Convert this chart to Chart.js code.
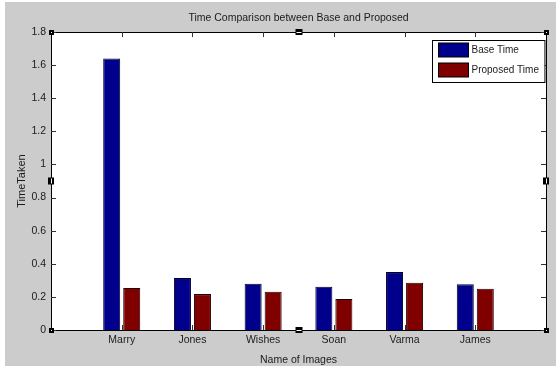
<!DOCTYPE html>
<html>
<head>
<meta charset="utf-8">
<script src="https://cdn.jsdelivr.net/npm/chart.js@4.4.1/dist/chart.umd.min.js"></script>
<style>
	html, body { margin: 0; padding: 0; background: #ffffff; }
	#fig { position: absolute; left: 5px; top: 2px; width: 551px; height: 364px; background: #cccccc; }
	#wrap { position: absolute; left: 0; top: 0; width: 556px; height: 366px; }
</style>
</head>
<body>
<div id="fig"></div>
<div id="wrap"><canvas id="timeChart" width="556" height="366"></canvas></div>
<script>
	// 데이터
	const imageNames = ['Marry', 'Jones', 'Wishes', 'Soan', 'Varma', 'James'];
	const baseTime = [1.64, 0.314, 0.28, 0.262, 0.35, 0.276];
	const proposedTime = [0.254, 0.217, 0.231, 0.187, 0.286, 0.249];
	const yTicks = [0, 0.2, 0.4, 0.6, 0.8, 1, 1.2, 1.4, 1.6, 1.8];

	const FONT = '"Liberation Sans", Arial, sans-serif';
	const TEXT = '#1a1a1a';

	// MATLAB 처럼 x 축 범위를 0..7 로 두기 위해 앞뒤에 빈 칸 추가
	const labels = [''].concat(imageNames, ['']);
	const pad = arr => [null].concat(arr, [null]);

	// 축 상자, 안쪽 눈금, 범례, 선택 핸들
	const matlabFrame = {
		id: 'matlabFrame',
		afterDatasetsDraw(chart) {
			const ctx = chart.ctx;
			const a = chart.chartArea;
			const x = chart.scales.x, y = chart.scales.y;
			ctx.save();
			ctx.strokeStyle = '#000';
			ctx.lineWidth = 1;
			ctx.strokeRect(Math.round(a.left) + 0.5, Math.round(a.top) + 0.5,
				Math.round(a.right - a.left), Math.round(a.bottom - a.top));

			ctx.strokeStyle = '#333';
			ctx.beginPath();
			yTicks.forEach(v => {
				const py = Math.round(y.getPixelForValue(v)) + 0.5;
				ctx.moveTo(a.left, py); ctx.lineTo(a.left + 5, py);
				ctx.moveTo(a.right, py); ctx.lineTo(a.right - 5, py);
			});
			imageNames.forEach((n, i) => {
				const px = Math.round(x.getPixelForValue(i + 1)) + 0.5;
				ctx.moveTo(px, a.bottom); ctx.lineTo(px, a.bottom - 5);
				ctx.moveTo(px, a.top); ctx.lineTo(px, a.top + 5);
			});
			ctx.stroke();

			// 범례
			ctx.font = '10px ' + FONT;
			const ds = chart.data.datasets;
			const tw = Math.max(...ds.map(d => ctx.measureText(d.label).width));
			const w = 6 + 30 + 3 + tw + 6;
			const bx = Math.round(a.right - 2 - w) + 0.5, by = Math.round(a.top + 8) + 0.5;
			ctx.fillStyle = '#fff';
			ctx.fillRect(bx, by, w, 42);
			ctx.strokeStyle = '#000';
			ctx.strokeRect(bx, by, w, 42);
			ds.forEach((d, i) => {
				const sy = by + 2.5 + i * 20;
				ctx.fillStyle = d.backgroundColor;
				ctx.fillRect(bx + 6, sy, 30, 14);
				ctx.strokeStyle = '#000';
				ctx.strokeRect(bx + 6, sy, 30, 14);
				ctx.fillStyle = TEXT;
				ctx.textBaseline = 'middle';
				ctx.textAlign = 'left';
				ctx.fillText(d.label, bx + 39, sy + 7);
			});

			// 선택 핸들
			const cx = Math.round((a.left + a.right) / 2), cy = Math.round((a.top + a.bottom) / 2);
			const handle = (hx, hy, hw, hh) => {
				ctx.fillStyle = '#000';
				ctx.fillRect(hx - hw / 2, hy - hh / 2, hw, hh);
				ctx.fillStyle = '#fff';
				if (hw > hh) ctx.fillRect(hx - hw / 2 + 1, hy, hw - 2, 1);
				else ctx.fillRect(hx, hy - hh / 2 + 1, 1, hh - 2);
			};
			handle(cx, Math.round(a.top), 7, 6);
			handle(cx, Math.round(a.bottom), 7, 6);
			handle(Math.round(a.left), cy, 6, 7);
			handle(Math.round(a.right), cy, 6, 7);
			[[a.left, a.top], [a.right, a.top], [a.left, a.bottom], [a.right, a.bottom]].forEach(p => {
				ctx.fillStyle = '#000';
				ctx.fillRect(Math.round(p[0]) - 2, Math.round(p[1]) - 2, 5, 5);
				ctx.fillStyle = '#fff';
				ctx.fillRect(Math.round(p[0]), Math.round(p[1]), 1, 1);
			});
			ctx.restore();
		}
	};

	// 흰색 축 영역
	const plotBg = {
		id: 'plotBg',
		beforeDraw(chart) {
			const a = chart.chartArea;
			chart.ctx.save();
			chart.ctx.fillStyle = '#ffffff';
			chart.ctx.fillRect(a.left, a.top, a.right - a.left, a.bottom - a.top);
			chart.ctx.restore();
		}
	};

	new Chart(document.getElementById('timeChart').getContext('2d'), {
		type: 'bar',
		data: {
			labels: labels,
			datasets: [
				{
					label: 'Base Time',
					data: pad(baseTime),
					backgroundColor: '#00008c',
					borderColor: '#000020',
					borderWidth: 1,
					categoryPercentage: 0.566,
					barPercentage: 0.85
				},
				{
					label: 'Proposed Time',
					data: pad(proposedTime),
					backgroundColor: '#800000',
					borderColor: '#200000',
					borderWidth: 1,
					categoryPercentage: 0.566,
					barPercentage: 0.85
				}
			]
		},
		options: {
			responsive: false,
			animation: false,
			layout: { padding: { left: 0, right: 10, top: 4, bottom: 0 } },
			plugins: {
				legend: { display: false },
				tooltip: { enabled: false },
				title: {
					display: true,
					fullSize: false,
					text: 'Time Comparison between Base and Proposed',
					color: TEXT,
					font: { family: FONT, size: 10.5, weight: 'normal' },
					padding: { top: 8, bottom: 7.5 }
				}
			},
			scales: {
				x: {
					offset: false,
					grid: { display: false, drawTicks: false },
					border: { display: false },
					ticks: {
						autoSkip: false,
						maxRotation: 0,
						padding: 4,
						color: TEXT,
						font: { family: FONT, size: 10.5 }
					},
					title: {
						display: true,
						text: 'Name of Images',
						color: TEXT,
						font: { family: FONT, size: 10.5 },
						padding: { top: 1, bottom: 0 }
					},
					afterFit(s) { s.height = 36; }
				},
				y: {
					min: 0,
					max: 1.8,
					grid: { display: false, drawTicks: false },
					border: { display: false },
					afterBuildTicks(s) { s.ticks = yTicks.map(v => ({ value: v })); },
					ticks: {
						padding: 5,
						color: TEXT,
						font: { family: FONT, size: 10.5 },
						callback: v => String(+v.toFixed(1))
					},
					title: {
						display: true,
						text: 'TimeTaken',
						color: TEXT,
						font: { family: FONT, size: 11 },
						padding: { top: 15, bottom: 0 }
					},
					afterFit(s) { s.width = 51; }
				}
			}
		},
		plugins: [plotBg, matlabFrame]
	});
</script>
</body>
</html>
